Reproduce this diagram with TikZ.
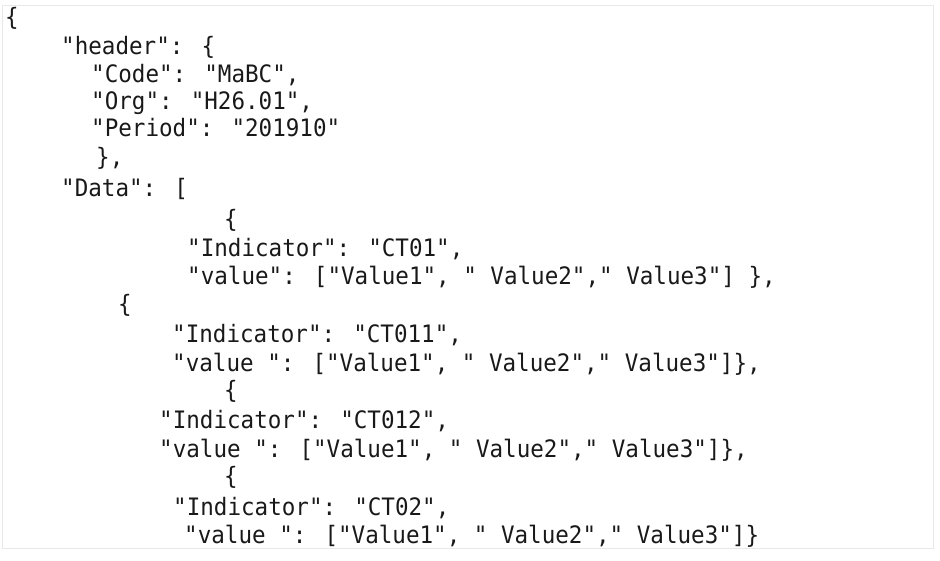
\documentclass[tikz,border=0pt]{standalone}
\usepackage{fontspec}
\usetikzlibrary{positioning}
\newfontfamily\jsonfont{DejaVu Sans Mono}[FakeStretch=0.94]

\begin{document}
\begin{tikzpicture}[
    codeline/.style={anchor=base west, inner sep=0pt, font=\jsonfont\fontsize{24}{28}\selectfont, text=black!90},
    pageframe/.style={draw=black!9, line width=0.8pt}
  ]
    % Define frame
    \useasboundingbox (0,0) rectangle (940pt,-561pt);
    \draw[pageframe] (2pt,-5pt) rectangle (933pt,-548pt);

    % Define nodes
    \node[codeline] (open) at (5pt,-26pt) {\{};
    \node[below=29pt of open.base west, xshift=56pt, codeline] (header) {"header": \{};
    \node[below=28pt of header.base west, xshift=30pt, codeline] (code) {"Code": "MaBC",};
    \node[below=27pt of code.base west, codeline] (org) {"Org": "H26.01",};
    \node[below=27pt of org.base west, codeline] (period) {"Period": "201910"};
    \node[below=29pt of period.base west, xshift=5pt, codeline] (hclose) {\},};
    \node[below=31pt of hclose.base west, xshift=-35pt, codeline] (data) {"Data": [};

    % first record
    \node[below=31pt of data.base west, xshift=163pt, codeline] (obrA) {\{};
    \node[below=29pt of obrA.base west, xshift=-37pt, codeline] (indA) {"Indicator": "CT01",};
    \node[below=28pt of indA.base west, codeline] (valA) {"value": ["Value1", " Value2"," Value3"] \},};

    % second record
    \node[below=28pt of valA.base west, xshift=-69pt, codeline] (obrB) {\{};
    \node[below=29pt of obrB.base west, xshift=54pt, codeline] (indB) {"Indicator": "CT011",};
    \node[below=29pt of indB.base west, codeline] (valB) {"value ": ["Value1", " Value2"," Value3"]\},};

    % third record
    \node[below=28pt of valB.base west, xshift=52pt, codeline] (obrC) {\{};
    \node[below=29pt of obrC.base west, xshift=-65pt, codeline] (indC) {"Indicator": "CT012",};
    \node[below=29pt of indC.base west, codeline] (valC) {"value ": ["Value1", " Value2"," Value3"]\},};

    % fourth record
    \node[below=27pt of valC.base west, xshift=65pt, codeline] (obrD) {\{};
    \node[below=31pt of obrD.base west, xshift=-51pt, codeline] (indD) {"Indicator": "CT02",};
    \node[below=28pt of indD.base west, xshift=11pt, codeline] (valD) {"value ": ["Value1", " Value2"," Value3"]\}};
\end{tikzpicture}
\end{document}
